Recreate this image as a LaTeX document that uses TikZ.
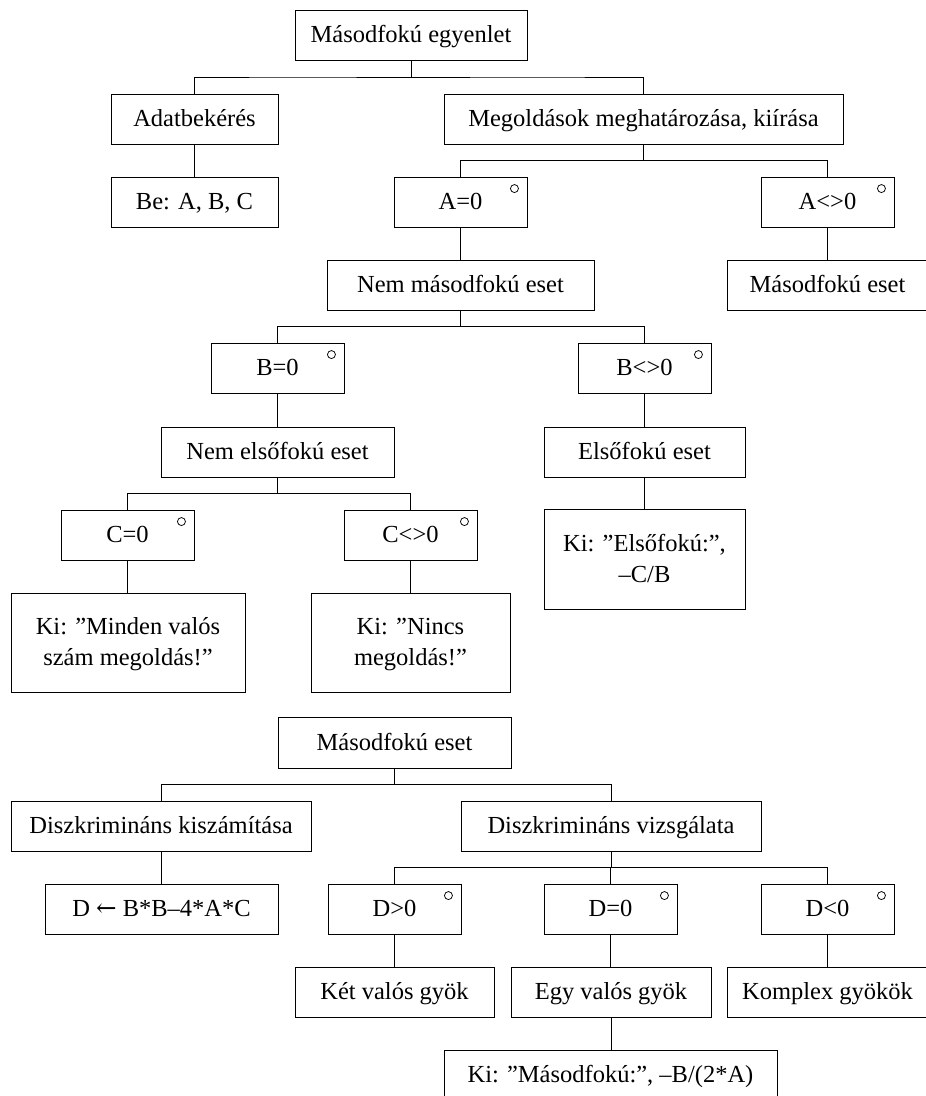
\documentclass[tikz,border=0pt]{standalone}
\usepackage{fontspec}
\setmainfont{Liberation Serif}
\newfontfamily\arrowfont{DejaVu Serif}
\usetikzlibrary{calc}
\newcommand\st{\rule[-5.5pt]{0pt}{26.5pt}}
\tikzset{
  box/.style={draw, line width=0.9pt, inner sep=0pt, align=center,
    font=\fontsize{24.5}{31}\selectfont},
  conn/.style={line width=0.9pt},
  ringdot/.style={line width=0.75pt}
}
\newcommand\bx[6]{\node[box, minimum width={(#4-#2)*1pt}, minimum height={(#5-#3)*1pt}] (#1) at ({(#2+#4)/2},{-(#3+#5)/2}) {#6};}
\newcommand\ring[1]{\draw[ringdot] ($(#1.north east)+(-13,-12)$) circle[radius=4];}
\newcommand\lnk[2]{\draw[conn] (#1.south) |- ($(#1.south)!.5!(#2.north)$) -| (#2.north);}
\newcommand\slnk[2]{\draw[conn] (#1.south) -- (#1.south |- #2.north);}
\begin{document}
\begin{tikzpicture}[x=1pt,y=1pt]
\useasboundingbox (0,0) rectangle (926,-1096);
\fill[white] (0,0) rectangle (926,-1096);
% first tree
\bx{root}{295}{10}{527}{60}{\st Másodfokú egyenlet}
\bx{adat}{111}{94}{278}{144}{\st Adatbekérés}
\bx{megold}{444}{94}{843}{144}{\st Megoldások meghatározása, kiírása}
\bx{be}{111}{177}{278}{227}{\st Be: A, B, C}
\bx{a0}{394}{177}{527}{227}{\st A=0}
\bx{an0}{761}{177}{894}{227}{\st A<>0}
\bx{nemmas}{327}{260}{594}{310}{\st Nem másodfokú eset}
\bx{mas}{727}{260}{928}{310}{\st Másodfokú eset}
\bx{b0}{211}{343}{344}{393}{\st B=0}
\bx{bn0}{578}{343}{711}{393}{\st B<>0}
\bx{nemelso}{161}{427}{394}{477}{\st Nem elsőfokú eset}
\bx{elso}{544}{427}{745}{477}{\st Elsőfokú eset}
\bx{c0}{61}{510}{194}{560}{\st C=0}
\bx{cn0}{344}{510}{477}{560}{\st C<>0}
\bx{kimind}{11}{593}{245}{692}{\st Ki: ”Minden valós\\\st szám megoldás!”}
\bx{kinincs}{311}{593}{510}{692}{\st Ki: ”Nincs\\\st megoldás!”}
\bx{kielso}{544}{509}{745}{609}{\st Ki: ”Elsőfokú:”,\\\st –C/B}
\ring{a0}\ring{an0}\ring{b0}\ring{bn0}\ring{c0}\ring{cn0}
\lnk{root}{adat}\lnk{root}{megold}
\slnk{adat}{be}
\lnk{megold}{a0}\lnk{megold}{an0}
\slnk{a0}{nemmas}\slnk{an0}{mas}
\lnk{nemmas}{b0}\lnk{nemmas}{bn0}
\slnk{b0}{nemelso}\slnk{bn0}{elso}
\lnk{nemelso}{c0}\lnk{nemelso}{cn0}
\slnk{c0}{kimind}\slnk{cn0}{kinincs}
\slnk{elso}{kielso}
% second tree
\bx{mas2}{278}{717}{511}{768}{\st Másodfokú eset}
\bx{dkisz}{11}{801}{311}{851}{\st Diszkrimináns kiszámítása}
\bx{dvizs}{461}{801}{761}{851}{\st Diszkrimináns vizsgálata}
\bx{dcalc}{45}{884}{278}{934}{\st D {\arrowfont ←} B*B–4*A*C}
\bx{dpos}{328}{884}{461}{934}{\st D>0}
\bx{dzero}{544}{884}{677}{934}{\st D=0}
\bx{dneg}{761}{884}{894}{934}{\st D<0}
\bx{ket}{295}{967}{494}{1017}{\st Két valós gyök}
\bx{egy}{511}{967}{711}{1017}{\st Egy valós gyök}
\bx{komp}{727}{967}{928}{1017}{\st Komplex gyökök}
\bx{kimas}{444}{1050}{777}{1100}{\st Ki: ”Másodfokú:”, –B/(2*A)}
\ring{dpos}\ring{dzero}\ring{dneg}
\lnk{mas2}{dkisz}\lnk{mas2}{dvizs}
\slnk{dkisz}{dcalc}
\lnk{dvizs}{dpos}\lnk{dvizs}{dzero}\lnk{dvizs}{dneg}
\slnk{dpos}{ket}\slnk{dzero}{egy}\slnk{dneg}{komp}
\slnk{egy}{kimas}
\end{tikzpicture}
\end{document}
